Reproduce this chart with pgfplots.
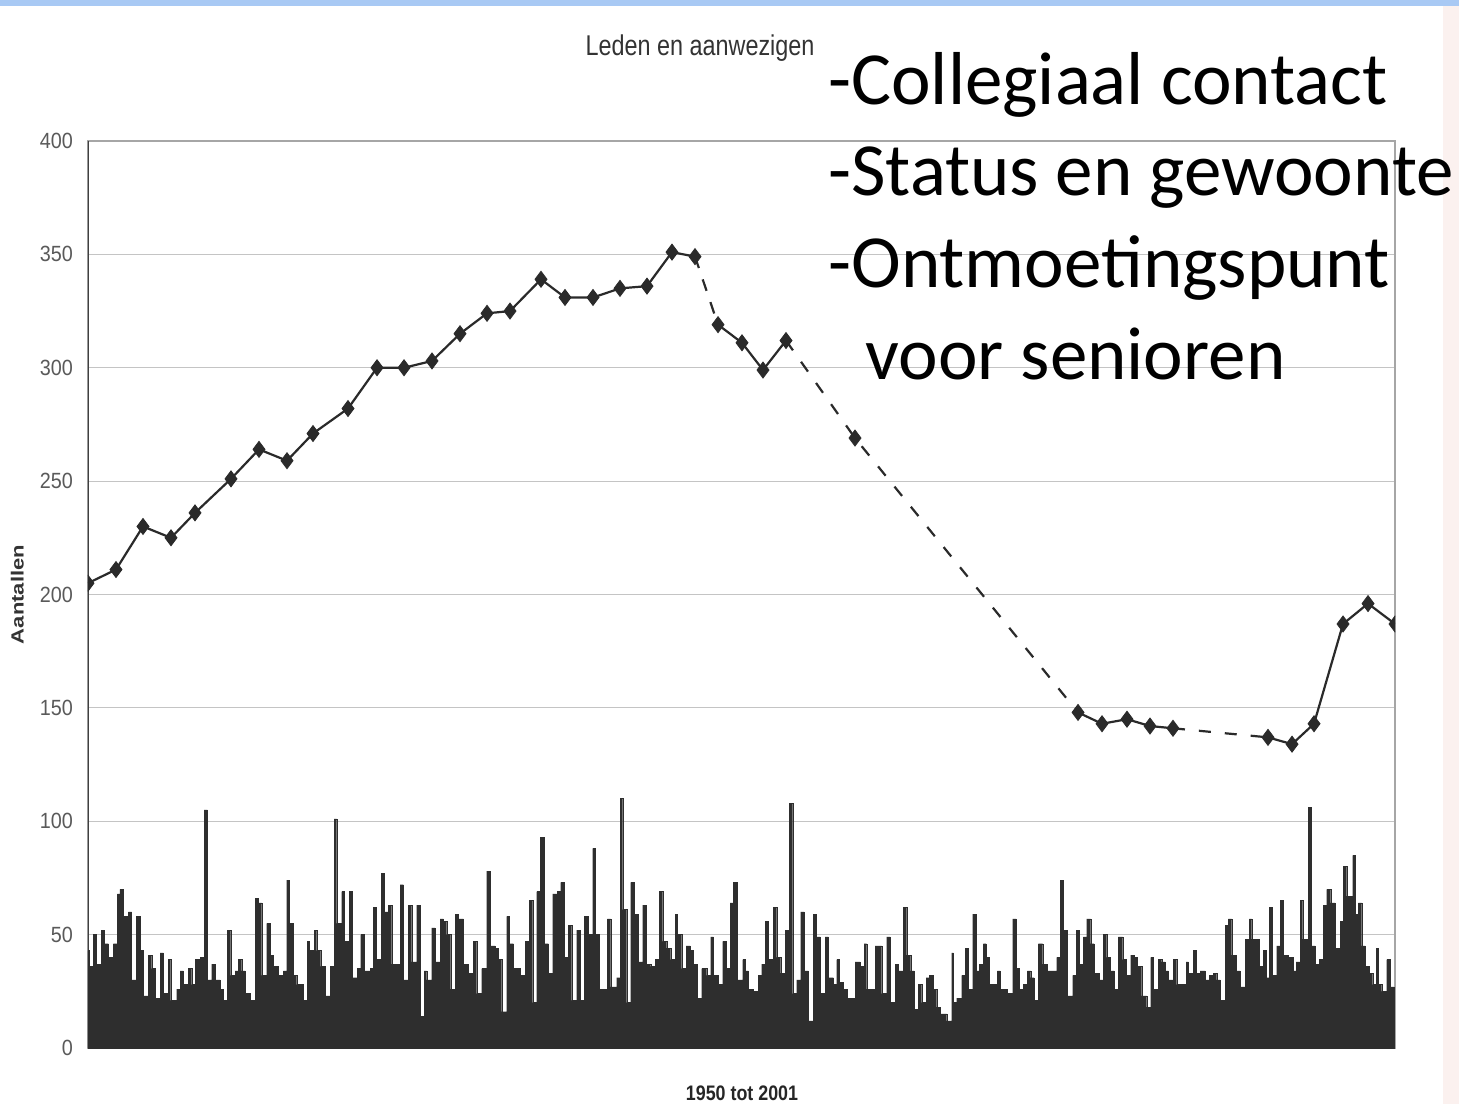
\documentclass[border=0pt]{standalone}
\usepackage{pgfplots}
\pgfplotsset{compat=1.18}
\usepackage{fontspec}
\setmainfont{Liberation Sans}
\newfontfamily\calibri{Carlito}
\definecolor{barcol}{HTML}{2E2E2E}
\definecolor{linecol}{HTML}{2A2A2A}
\definecolor{gridcol}{HTML}{C4C4C4}
\definecolor{tickcol}{HTML}{5A5A5A}
\definecolor{topband}{HTML}{A8C9F4}
\definecolor{pinkstrip}{HTML}{FBF1EF}
\pgfplotstableread{
px v
88 43
89 36
93.3 50
96.7 37
101.7 52
104 46
108.3 40
113.3 46
117.3 68
120 70
123.3 58
128.3 60
131.7 30
136.7 58
140 43
143.3 23
148.3 41
151.7 35
155 22
160 42
163.3 24
168.3 39
170.7 21
176.7 26
180 34
183.3 28
188.3 35
191.7 28
195 39
200 40
204 105
207.3 30
211.7 37
215 30
220 26
223.3 21
227.3 52
230.7 32
235 34
238.3 39
241.7 34
245 24
250 21
255 66
258.3 64
261.7 32
266.7 55
270 41
273.3 36
278.3 32
283.3 34
286.7 74
289.3 55
293.3 32
296.7 28
300 28
303.3 21
307.3 47
309.3 43
314 52
316.7 43
320.7 36
325 23
330 36
334 101
336.7 55
341.7 69
344.3 47
349.3 69
352.3 31
357.3 35
360.7 50
364 34
370 35
373.3 62
376 39
381 77
384 60
388.3 63
391.7 37
400 72
403.3 30
408.3 63
411.7 38
416.7 63
420 14
424 34
426.7 30
431.7 53
435 38
440 57
443.3 56
446.7 50
450.7 26
455 59
458.3 57
463.3 37
468.3 33
473.3 47
476.7 24
481.7 35
486.7 78
490 45
495 44
498.3 39
501.7 16
506.7 58
509.3 46
513.3 35
520 32
525 47
529.3 65
532.7 20
536.7 69
540 93
544 46
548.3 33
552.7 68
557.3 69
560.7 73
564 40
568.3 54
571.7 21
576.7 52
580 21
584 58
588.3 50
592.7 88
595.3 50
599.3 26
607.3 57
610.7 27
616.7 31
620 110
622.7 61
626.7 20
630.7 73
634 59
638.3 38
642.7 63
646 37
650.7 36
655 39
659.3 69
662.7 47
666.7 44
670.7 39
675 59
677.3 50
681.7 35
686 45
690 43
693.3 37
697.3 22
701.7 35
706.7 32
710.7 49
713.3 32
718.3 28
722.7 47
726 35
730 64
733.3 73
737.3 30
740 30
742.7 39
745 34
748.3 26
753.3 25
758.3 32
761.7 37
765 56
768.3 39
773.3 62
776.7 40
780.7 33
785 52
789.3 108
792.7 24
796.7 30
800.7 60
804 34
808.3 12
813.3 59
816 49
820 24
825 49
828.3 31
833.3 28
836.7 39
839.3 29
843.3 26
847.3 22
855 38
860 36
864 46
866.7 26
875 45
881.7 24
886.7 49
890 20
895 37
898.3 34
903.3 62
906.7 41
910.7 34
914 17
918.3 28
921.7 20
926 31
929.3 32
933.3 26
936.7 18
940 15
946.7 12
951.7 42
953.3 20
956.7 22
960 22
961.7 32
965 44
968.3 26
972.7 59
976 34
979.3 37
983.3 46
986 40
989.3 28
997.3 34
1000 26
1007.3 24
1012.7 57
1016 35
1019.3 26
1023.3 28
1027.3 34
1030.7 31
1034 21
1038.3 46
1042.7 37
1047.3 34
1056.7 40
1060 74
1063.3 52
1067.3 23
1072.7 32
1076 52
1079.3 37
1083.3 49
1086.7 57
1090.7 46
1094 33
1099.3 30
1103.3 50
1106.7 40
1110 34
1114 26
1118.3 49
1122.7 39
1126 32
1130.7 41
1134 40
1137.3 36
1141.7 23
1146.7 18
1150.7 40
1153.3 26
1158.3 39
1161.7 38
1165 34
1168.3 30
1173.3 39
1176.7 28
1180 28
1186 38
1188.3 33
1193.3 43
1196 33
1200 34
1205 30
1209.3 32
1213.3 33
1216.7 30
1220 21
1225 54
1228.3 57
1231.7 41
1236 34
1240 27
1245 48
1249.3 57
1251.7 48
1259.3 36
1263.3 43
1266 31
1269.3 62
1272 32
1276.7 45
1280 65
1283.3 41
1288.3 40
1293.3 34
1296 38
1300 65
1302.7 48
1308.3 106
1311 45
1315 37
1319.3 39
1323.3 63
1326.7 70
1330.7 64
1335 44
1340 56
1343.3 80
1346.7 67
1352.7 85
1355 59
1358.3 64
1361.7 45
1365 36
1369.3 33
1372.7 28
1376 44
1378.3 28
1381.7 25
1386.7 39
1390 27
1394 27
}\bars
\pgfplotstableread{
px v
88 205
116 211
143 230
171 225
195 236
231 251
259 264
287 259
313 271
348 282
377 300
404 300
432 303
460 315
487 324
510 325
541 339
565 331
593 331
620 335
647 336
672 351
695 349
718 319
742 311
763 299
786 312
855 269
1078 148
1102 143
1127 145
1150 142
1173 141
1268 137
1292 134
1314 143
1343 187
1368 196
1395 187
}\members
\begin{document}
\begin{tikzpicture}
\path[use as bounding box] (0,0) rectangle (729.5pt,552pt);
\fill[white] (0,0) rectangle (729.5pt,552pt);
\fill[pinkstrip] (721.5pt,0) rectangle (729.5pt,552pt);
\fill[topband] (0,549pt) rectangle (729.5pt,552pt);
\begin{axis}[
  at={(44pt,28pt)}, anchor=south west,
  scale only axis, width=653.5pt, height=453.5pt,
  xmin=88, xmax=1395, ymin=0, ymax=400,
  xtick=\empty,
  ytick={0,50,...,400},
  ymajorgrids, grid style={gridcol, line width=0.6pt},
  tick style={draw=none},
  axis line style={draw=gray!70, line width=0.8pt},
  /pgf/number format/assume math mode=true,
  yticklabel style={font=\fontsize{11}{12}\selectfont, text=tickcol, xshift=-4pt},
  yticklabel={\scalebox{0.9}[1]{\pgfmathprintnumber{\tick}}},
  ylabel={\scalebox{1}[0.8]{\bfseries Aantallen}},
  ylabel style={at={(axis description cs:-0.054,0.5)}, anchor=center, rotate=0, font=\fontsize{11}{12}\selectfont, text=black!80},
  xlabel={\scalebox{0.85}[1]{\bfseries 1950 tot 2001}},
  xlabel style={at={(axis description cs:0.5004,-0.0496)}, anchor=center, font=\fontsize{10.5}{12}\selectfont, text=black!85},
  clip=true,
]
\draw[black!75, line width=1pt] (axis cs:88,0) -- (axis cs:88,400);
\addplot[const plot, fill=barcol, draw=barcol, line width=0.2pt] table[x=px,y=v] {\bars} \closedcycle;
\addplot[linecol, line width=1.1pt, no marks] table[x=px,y=v] {
px v
88 205
116 211
143 230
171 225
195 236
231 251
259 264
287 259
313 271
348 282
377 300
404 300
432 303
460 315
487 324
510 325
541 339
565 331
593 331
620 335
647 336
672 351
695 349
};
\addplot[linecol, line width=1.1pt, no marks, dash pattern=on 6pt off 6pt] table[x=px,y=v] {
px v
695 349
718 319
};
\addplot[linecol, line width=1.1pt, no marks] table[x=px,y=v] {
px v
718 319
742 311
763 299
786 312
};
\addplot[linecol, line width=1.1pt, no marks, dash pattern=on 6pt off 7pt] table[x=px,y=v] {
px v
786 312
855 269
1078 148
};
\addplot[linecol, line width=1.1pt, no marks] table[x=px,y=v] {
px v
1078 148
1102 143
1127 145
1150 142
1173 141
};
\addplot[linecol, line width=1.1pt, no marks, dash pattern=on 6pt off 7pt] table[x=px,y=v] {
px v
1173 141
1268 137
};
\addplot[linecol, line width=1.1pt, no marks] table[x=px,y=v] {
px v
1268 137
1292 134
1314 143
1343 187
1368 196
1395 187
};
\addplot[only marks, mark=diamond*, mark size=4pt, mark options={fill=linecol, draw=linecol}, clip mode=individual] table[x=px,y=v] {\members};
\end{axis}
\node[font=\fontsize{13}{14}\selectfont, text=black!80] at (350pt,528pt) {\scalebox{0.9}[1.1]{Leden en aanwezigen}};
\begin{scope}[every node/.style={anchor=base west, inner sep=0pt, font=\calibri\fontsize{37.5}{40}\selectfont, text=black}]
\node at (414pt,499.5pt) {-Collegiaal contact};
\node at (414pt,454pt) {-Status en gewoonte};
\node at (414pt,408pt) {-Ontmoetingspunt};
\node at (432.5pt,362pt) {voor senioren};
\end{scope}
\end{tikzpicture}
\end{document}
